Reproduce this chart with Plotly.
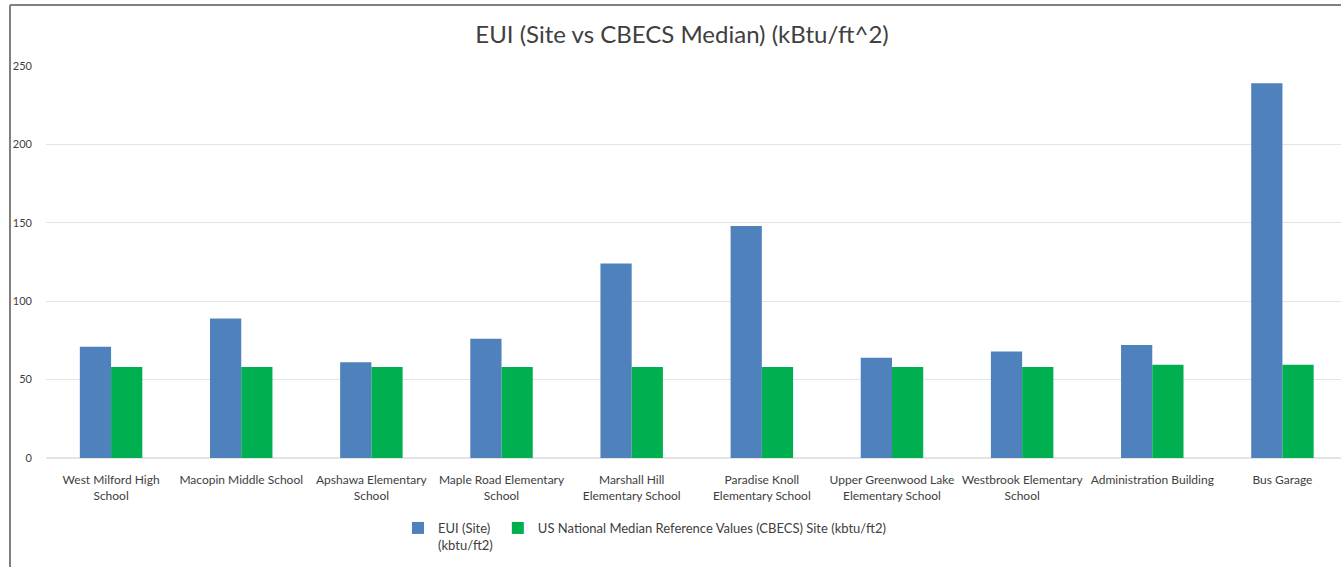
import plotly.graph_objects as go

categories = [
    "West Milford High School", "Macopin Middle School", "Apshawa Elementary School",
    "Maple Road Elementary School", "Marshall Hill Elementary School",
    "Paradise Knoll Elementary School", "Upper Greenwood Lake Elementary School",
    "Westbrook Elementary School", "Administration Building", "Bus Garage",
]
tick_labels = [
    "West Milford High<br>School", "Macopin Middle School", "Apshawa Elementary<br>School",
    "Maple Road Elementary<br>School", "Marshall Hill<br>Elementary School",
    "Paradise Knoll<br>Elementary School", "Upper Greenwood Lake<br>Elementary School",
    "Westbrook Elementary<br>School", "Administration Building", "Bus Garage",
]
eui_site = [71, 89, 61, 76, 124, 148, 64, 68, 72, 239]
cbecs_median = [58, 58, 58, 58, 58, 58, 58, 58, 59.5, 59.5]

W, H = 1341, 567
L, R, T, B = 46, 0, 66, 109
pw, ph = W - L - R, H - T - B
def px_x(x): return (x - L) / pw
def px_y(y): return (H - B - y) / ph

font_family = "Lato, sans-serif"
fig = go.Figure()
fig.add_trace(go.Bar(x=categories, y=eui_site, name="EUI (Site)<br>(kbtu/ft2)",
                     marker=dict(color="#4F81BD", line=dict(width=0))))
fig.add_trace(go.Bar(x=categories, y=cbecs_median,
                     name="US National Median Reference Values (CBECS) Site (kbtu/ft2)",
                     marker=dict(color="#00B050", line=dict(width=0))))

fig.update_layout(
    width=W, height=H,
    margin=dict(l=L, r=R, t=T, b=B, autoexpand=False),
    paper_bgcolor="white", plot_bgcolor="white",
    barmode="group", bargap=0.52, bargroupgap=0,
    title=dict(text="EUI (Site vs CBECS Median) (kBtu/ft^2)", x=px_x(682), xref="paper",
               xanchor="center", y=1 - 35 / H, yanchor="middle",
               font=dict(family=font_family, size=24, color="#404040")),
    font=dict(family=font_family, size=13, color="#404040"),
    showlegend=True,
    legend=dict(orientation="h", x=px_x(398), xanchor="left", y=px_y(513), yanchor="top",
                valign="top", font=dict(family=font_family, size=13, color="#404040"),
                itemwidth=30, traceorder="normal", bgcolor="rgba(0,0,0,0)"),
    xaxis=dict(type="category", range=[-0.5, 9.45], tickmode="array", tickvals=categories,
               ticktext=tick_labels, showgrid=False, showline=False, ticks="",
               ticklabelstandoff=13,
               tickfont=dict(family=font_family, size=12, color="#404040"), tickangle=0,
               automargin=False),
    yaxis=dict(range=[0, 250], tickvals=[0, 50, 100, 150, 200, 250], showgrid=True,
               gridcolor="#E4E4E4", gridwidth=1, zeroline=True, zerolinecolor="#E4E4E4",
               showline=False, ticks="", ticklabelstandoff=13,
               tickfont=dict(family=font_family, size=11, color="#404040"), automargin=False),
    shapes=[
        dict(type="line", xref="paper", yref="paper", x0=px_x(10), x1=px_x(10),
             y0=px_y(5), y1=px_y(567), line=dict(color="#808080", width=2)),
        dict(type="line", xref="paper", yref="paper", x0=px_x(10), x1=px_x(1341),
             y0=px_y(5), y1=px_y(5), line=dict(color="#808080", width=2)),
    ],
)
fig.write_html("out.html", config={"displayModeBar": False},
               post_script="document.body.style.margin='0';document.body.style.overflow='hidden';")
